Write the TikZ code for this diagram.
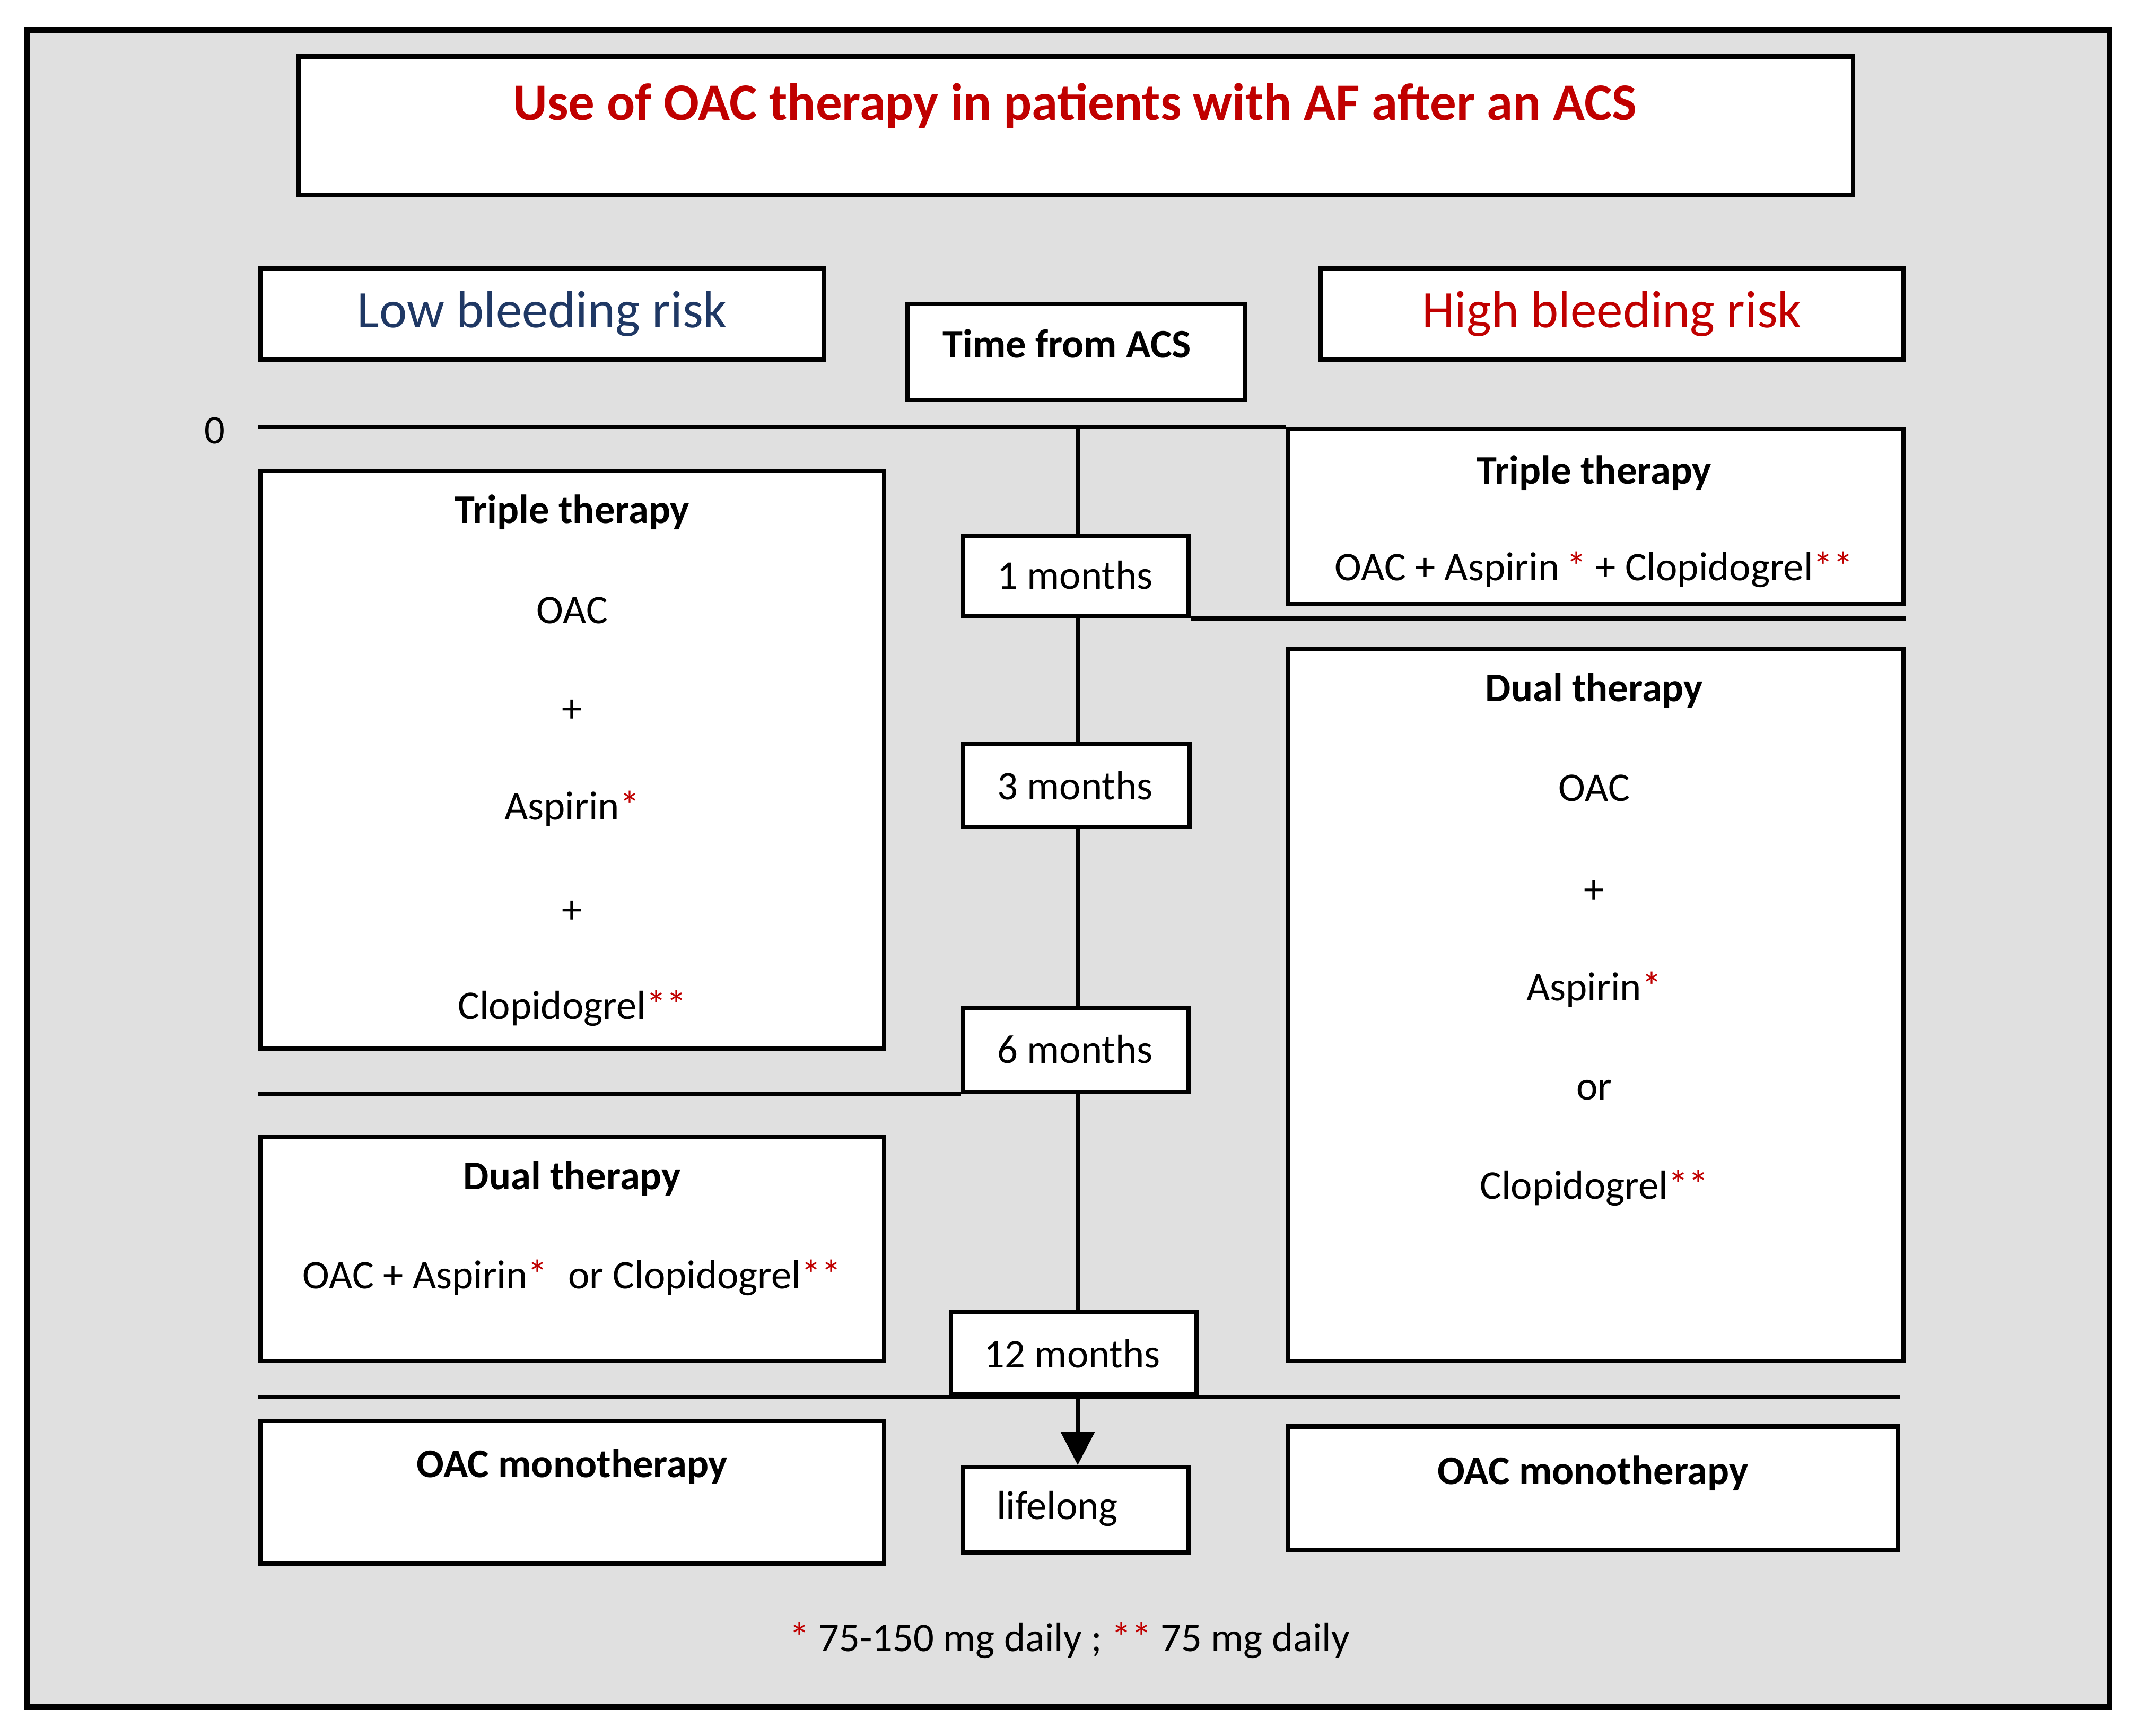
\documentclass[tikz,border=0pt]{standalone}
\usepackage{fontspec}
\setmainfont{Carlito}
\usetikzlibrary{arrows.meta}
\definecolor{bg}{HTML}{E0E0E0}
\definecolor{dred}{HTML}{C00000}
\definecolor{dblue}{HTML}{1F3864}
\begin{document}
\begin{tikzpicture}[x=0.01cm,y=-0.01cm,
  box/.style={draw=black,line width=0.9pt,fill=white,anchor=north west,inner sep=0pt},
  t/.style={font=\fontsize{8.5}{10}\selectfont,inner sep=0pt},
  tb/.style={t,font=\fontsize{8.5}{10}\selectfont\bfseries},
  ln/.style={line width=0.9pt}]
\newcommand{\bx}[5]{\node[box,minimum width=#4*0.01cm-0.9pt,minimum height=#5*0.01cm-0.9pt] (#1) at (#2,#3) {};}
\useasboundingbox (0,0) rectangle (1568,1277);
\draw[line width=1.2pt,fill=bg] (20,22) rectangle (1552,1256);
% title
\bx{title}{218}{40}{1147}{105}
\node[t,font=\fontsize{11}{13}\selectfont\bfseries,text=dred] (titlet) at (791,78) {Use of OAC therapy in patients with AF after an ACS};
\bx{low}{190}{196}{418}{70}
\node[t,font=\fontsize{11}{13}\selectfont,text=dblue] (lowt) at (399,231) {Low bleeding risk};
\bx{high}{970}{196}{432}{70}
\node[t,font=\fontsize{11}{13}\selectfont,text=dred] (hight) at (1186,231) {High bleeding risk};
% lines
\coordinate (l0a) at (190,314); \coordinate (l0b) at (946,314);
\draw[ln] (l0a) -- (l0b);
\node[t] (zero) at (158,317) {0};
\coordinate (l1a) at (876,455); \coordinate (l1b) at (1402,455);
\draw[ln] (l1a) -- (l1b);
\coordinate (l6a) at (190,805); \coordinate (l6b) at (707,805);
\draw[ln] (l6a) -- (l6b);
\coordinate (l12a) at (190,1028); \coordinate (l12b) at (1398,1028);
\draw[ln] (l12a) -- (l12b);
\coordinate (vtop) at (793,314);
\bx{life}{707}{1078}{169}{66}
\draw[ln,-{Triangle[length=7pt,width=7pt]}] (vtop) -- (793,1078);
% time box
\bx{time}{666}{222}{252}{74}
\node[tb] (timet) at (785,253) {Time from ACS};
% right triple
\bx{rtri}{946}{314}{456}{132}
\node[tb] at (1173,348) {Triple therapy};
\node[t] at (1173,419) {OAC + Aspirin\,{\color{dred}*} + Clopidogrel{\color{dred}**}};
% left triple
\bx{ltri}{190}{345}{462}{428}
\node[tb] at (421,377) {Triple therapy};
\node[t] at (421,449) {OAC};
\node[t] at (421,523) {+};
\node[t] at (421,595) {Aspirin{\color{dred}*}};
\node[t] at (421,671) {+};
\node[t] at (421,742) {Clopidogrel{\color{dred}**}};
% month boxes
\bx{m1}{707}{393}{169}{62}
\node[t] at (791,423) {1 months};
\bx{m3}{707}{546}{170}{64}
\node[t] at (791,578) {3 months};
\bx{m6}{707}{740}{169}{65}
\node[t] at (791,772) {6 months};
\bx{m12}{698}{964}{184}{63}
\node[t] at (789,996) {12 months};
\node[t] at (778,1110) {lifelong};
% right dual
\bx{rdual}{946}{476}{456}{527}
\node[tb] at (1173,508) {Dual therapy};
\node[t] at (1173,580) {OAC};
\node[t] at (1173,656) {+};
\node[t] at (1173,728) {Aspirin{\color{dred}*}};
\node[t] at (1173,802) {or};
\node[t] at (1173,874) {Clopidogrel{\color{dred}**}};
% left dual
\bx{ldual}{190}{835}{462}{168}
\node[tb] at (421,867) {Dual therapy};
\node[t] at (421,940) {OAC + Aspirin{\color{dred}*}\enspace or Clopidogrel{\color{dred}**}};
% mono
\bx{lmono}{190}{1044}{462}{108}
\node[tb] at (421,1079) {OAC monotherapy};
\bx{rmono}{946}{1048}{452}{94}
\node[tb] at (1172,1084) {OAC monotherapy};
\node[t] (foot) at (787,1207) {{\color{dred}*} 75-150 mg daily ; {\color{dred}**} 75 mg daily};
\end{tikzpicture}
\end{document}
